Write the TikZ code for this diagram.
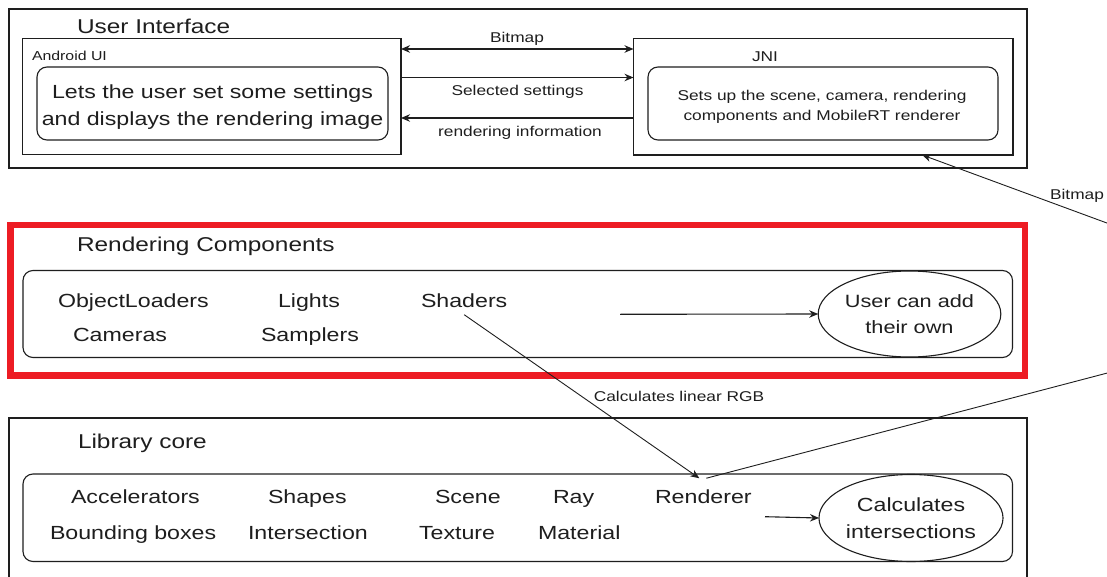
\documentclass[tikz,border=0pt]{standalone}
\usepackage{fontspec}
\setmainfont{Liberation Sans}[FakeStretch=1.22]
\usetikzlibrary{arrows.meta,shapes.geometric,calc}
\definecolor{redframe}{HTML}{ED1C24}
\definecolor{ink}{HTML}{1E1E1E}

\begin{document}
\begin{tikzpicture}[x=1pt,y=-1pt,
  every node/.style={inner sep=0pt, outer sep=0pt, text=ink},
  frame/.style={draw=ink, line width=1.4pt},
  panel/.style={draw=ink, line width=1.1pt, rounded corners=10pt},
  tip/.tip={Stealth[length=9pt,width=7.5pt]},
  arr/.style={draw=ink, line width=1.1pt, -tip},
  link/.style={draw=ink, line width=0.9pt, -tip},
  big/.style={font=\fontsize{19}{27}\selectfont, align=center},
  item/.style={font=\fontsize{19}{23}\selectfont, anchor=base west},
  small/.style={font=\fontsize{14.2}{20}\selectfont, anchor=base},
  title/.style={font=\fontsize{20}{24}\selectfont, anchor=base west},
  bubble/.style={draw=ink, line width=1.1pt, ellipse, align=center},
]
\useasboundingbox (0,0) rectangle (1107,577);
\fill[white] (0,0) rectangle (1107,577);

% ---------- User interface layer ----------
\node[frame, minimum width=1018pt, minimum height=159pt, anchor=north west] (ui) at (9,9) {};
\node[title] (uititle) at (77,34) {User Interface};

\node[frame, minimum width=378.5pt, minimum height=116pt, anchor=north west] (android) at (22.5,38.5) {};
\node[font=\fontsize{13}{15}\selectfont, anchor=base west] (androidlbl) at (32,61) {Android UI};
\node[panel, minimum width=351pt, minimum height=73pt, anchor=north west] (androidpanel) at (37,67) {};
\node[big] (androidtxt) at (212.5,107.5) {Lets the user set some settings\\and displays the rendering image};

\node[frame, minimum width=379.5pt, minimum height=116.5pt, anchor=north west] (jni) at (633.5,38.5) {};
\node[small] (jnilbl) at (765,61.5) {JNI};
\node[panel, minimum width=350pt, minimum height=73pt, anchor=north west] (jnipanel) at (648,67) {};
\node[font=\fontsize{14.2}{20}\selectfont, align=center] (jnitxt) at (822,107)
  {Sets up the scene, camera, rendering\\components and MobileRT renderer};

% messages between Android UI and JNI
\draw[draw=ink, line width=1.1pt, tip-tip] ([yshift=-10.5pt]android.north east) -- ([yshift=-10.5pt]jni.north west);
\node[small] (bmlbl) at (517,42.7) {Bitmap};
\draw[arr] ([yshift=-39pt]android.north east) -- ([yshift=-39pt]jni.north west);
\node[small] (sellbl) at (517.5,96) {Selected settings};
\draw[arr] ([yshift=-79.5pt]jni.north west) -- ([yshift=-79.5pt]android.north east);
\node[small] (infolbl) at (520,136.5) {rendering information};

% ---------- Rendering components layer ----------
\node[draw=redframe, line width=6.5pt, minimum width=1014.5pt, minimum height=150.5pt, anchor=north west] (rc) at (10.5,225) {};
\node[title] (rctitle) at (77,251.7) {Rendering Components};
\node[panel, minimum width=989.5pt, minimum height=87pt, anchor=north west] (rcpanel) at (23,270.5) {};
\node[item] (objload) at (58,307.5) {ObjectLoaders};
\node[item] (cameras) at (73,341.5) {Cameras};
\node[item] (lights) at (278,307.5) {Lights};
\node[item] (samplers) at (261,341.5) {Samplers};
\node[item] (shaders) at (421,307.5) {Shaders};
\node[bubble, font=\fontsize{17.8}{26}\selectfont, minimum width=175pt, minimum height=86pt] (userown) at (909.5,314) {User can add\\their own};
\coordinate (rcstart) at (620,314.3);
\draw[arr] (rcstart) -- (userown.west);

% ---------- Library core layer ----------
\node[frame, minimum width=1018pt, minimum height=190pt, anchor=north west] (core) at (9,418) {};
\node[title] (coretitle) at (78,448) {Library core};
\node[panel, minimum width=989.5pt, minimum height=87.5pt, anchor=north west] (corepanel) at (23,474) {};
\node[item] (accel) at (71,503) {Accelerators};
\node[item] (bbox) at (50,539) {Bounding boxes};
\node[item] (shapes) at (268,503.5) {Shapes};
\node[item] (inter) at (248,539) {Intersection};
\node[item] (scene) at (435,503.5) {Scene};
\node[item] (texture) at (419,539) {Texture};
\node[item] (ray) at (553,503.5) {Ray};
\node[item] (material) at (538,539) {Material};
\node[item] (renderer) at (655,503) {Renderer};
\node[bubble, font=\fontsize{19}{27}\selectfont, minimum width=176pt, minimum height=87pt] (calc) at (911,518) {Calculates\\intersections};
\coordinate (corestart) at (765,516.7);
\draw[arr] (corestart) -- (calc.west);

% ---------- connectors between layers ----------
\draw[link] ([yshift=-7pt]shaders.south) -- ([xshift=-4pt,yshift=11pt]renderer.north);
\node[small] (rgblbl) at (679,401.5) {Calculates linear RGB};

\coordinate (bmlow) at (1115,371);
\coordinate (bmhigh) at (1115,226);
\draw[link] ([xshift=3pt,yshift=11pt]renderer.north) -- (bmlow) -- (bmhigh) -- ([xshift=99pt]jni.south);
\node[small] (bmretlbl) at (1077,200) {Bitmap};
\end{tikzpicture}
\end{document}
